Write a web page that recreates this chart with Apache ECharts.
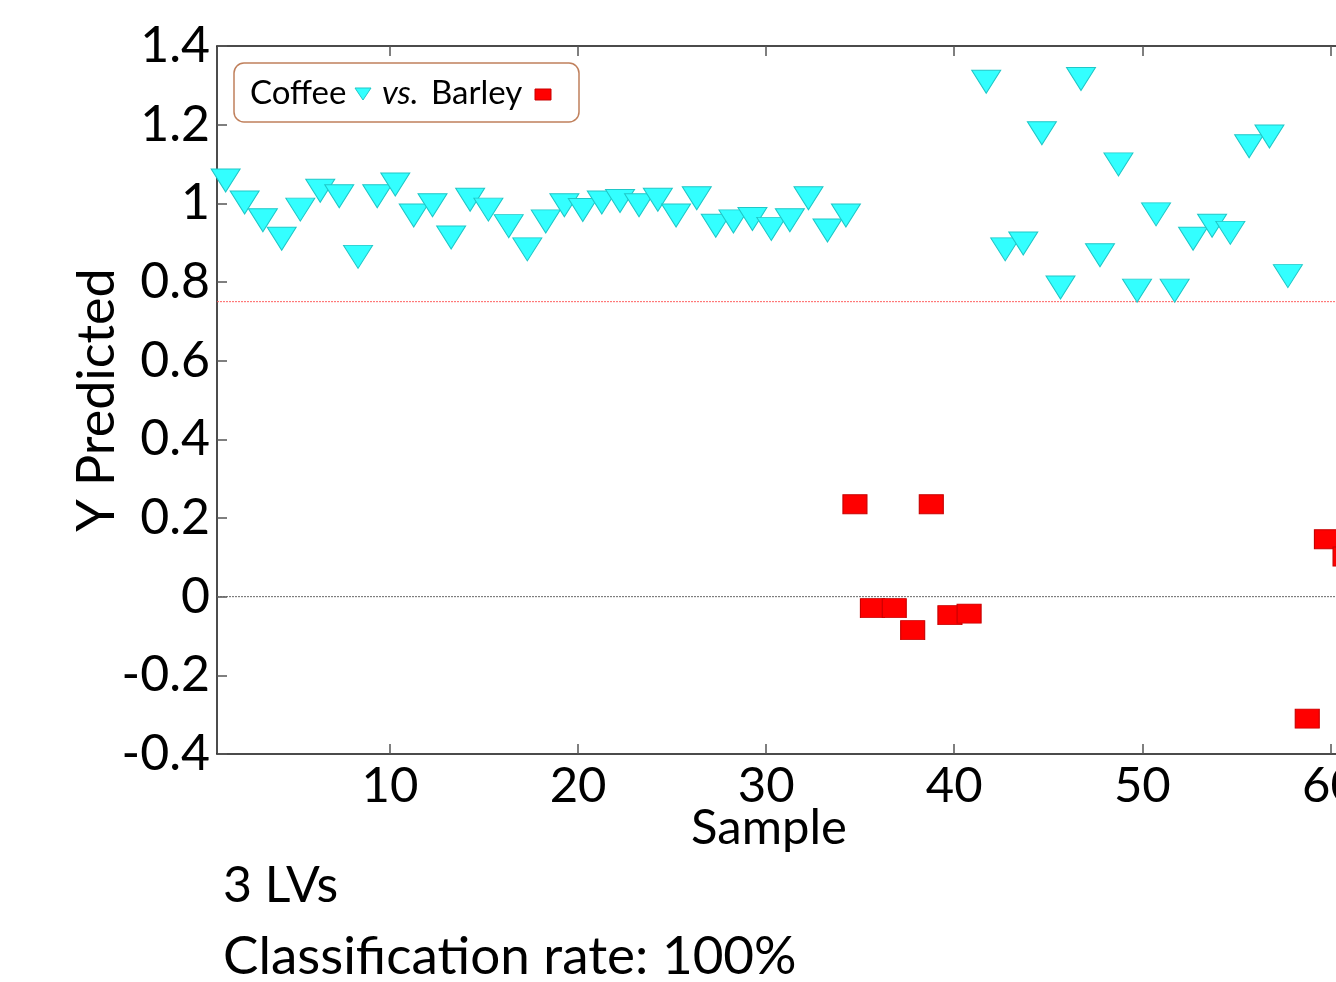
<!DOCTYPE html>
<html><head><meta charset="utf-8">
<script src="https://cdn.jsdelivr.net/npm/echarts@6/dist/echarts.min.js"></script>
<style>html,body{margin:0;padding:0;background:#fff}#c{width:1336px;height:982px}</style>
</head><body><div id="c"></div>
<script>
// Coffee samples (cyan triangles)
const coffeeX = [1.26, 2.27, 3.24, 4.24, 5.23, 6.29, 7.30, 8.30, 9.32, 10.28, 11.26, 12.26, 13.25, 14.26, 15.23, 16.31, 17.30,
  18.28, 19.27, 20.25, 21.26, 22.23, 23.24, 24.24, 25.21, 26.31, 27.32, 28.26, 29.27, 30.27, 31.26, 32.25, 33.26, 34.24,
  41.70, 42.71, 43.67, 44.66, 45.65, 46.74, 47.75, 48.73, 49.72, 50.73, 51.72, 52.70, 53.71, 54.68, 55.68, 56.76, 57.74];
const coffeeY = [1.058, 1.002, 0.957, 0.910, 0.984, 1.032, 1.018, 0.864, 1.018, 1.048, 0.969, 0.995, 0.913, 1.009, 0.984, 0.942, 0.883,
  0.954, 0.995, 0.983, 1.002, 1.006, 0.995, 1.009, 0.969, 1.013, 0.943, 0.954, 0.960, 0.935, 0.957, 1.013, 0.931, 0.969,
  1.309, 0.883, 0.898, 1.178, 0.786, 1.316, 0.868, 1.099, 0.778, 0.972, 0.778, 0.910, 0.943, 0.925, 1.145, 1.170, 0.815];
// Barley samples (red squares)
const barleyX = [34.72, 35.65, 36.81, 37.79, 38.78, 39.77, 40.79, 58.77, 59.79, 60.78];
const barleyY = [0.235, -0.029, -0.029, -0.085, 0.235, -0.047, -0.043, -0.310, 0.146, 0.102];

const xTickValues = [10, 20, 30, 40, 50, 60];
// the original figure is cropped at the right edge of the picture
const xMin = 0.8, xMax = 62;
const yMin = -0.4, yMax = 1.4, yStep = 0.2;
const thresholdY = 0.75;
const zeroY = 0;
const infoLines = ['3 LVs', 'Classification rate: 100%'];

const FONT = 'Lato';
const chart = echarts.init(document.getElementById('c'), null, {renderer: 'canvas'});

const pxPerUnit = 18.8;
const gridW = Math.round((xMax - xMin) * pxPerUnit);

const coffeeData = coffeeX.map((x, i) => [x, coffeeY[i]]);
const barleyData = barleyX.map((x, i) => [x, barleyY[i]]);
const hLine = y => [[xMin, y], [xMax, y]];

const fmtY = v => String(Math.round(v * 10) / 10);

const tickStyle = {show: true, inside: true, length: 10, lineStyle: {color: '#555', width: 1.5}};
const lineStyleAxis = {show: true, onZero: false, lineStyle: {color: '#111', width: 1.5}};

chart.setOption({
  animation: false,
  backgroundColor: '#fff',
  grid: {left: 217, top: 46, width: gridW, height: 708, containLabel: false, outerBoundsMode: 'none'},
  xAxis: [{
    type: 'value', min: xMin, max: xMax, position: 'bottom',
    axisLine: lineStyleAxis,
    axisTick: Object.assign({customValues: xTickValues}, tickStyle),
    axisLabel: {customValues: xTickValues, color: '#000', fontFamily: FONT, fontSize: 49, margin: 8},
    splitLine: {show: false},
    name: 'Sample', nameLocation: 'middle', nameGap: 50, nameMoveOverlap: false,
    nameTextStyle: {color: '#000', fontFamily: FONT, fontSize: 49, padding: [0, 47, 0, 0]}
  }, {
    type: 'value', min: xMin, max: xMax, position: 'top',
    axisLine: lineStyleAxis,
    axisTick: Object.assign({customValues: xTickValues}, tickStyle),
    axisLabel: {show: false},
    splitLine: {show: false}
  }],
  yAxis: [{
    type: 'value', min: yMin, max: yMax, interval: yStep,
    axisLine: lineStyleAxis,
    axisTick: tickStyle,
    axisLabel: {formatter: fmtY, color: '#000', fontFamily: FONT, fontSize: 50, margin: 7},
    splitLine: {show: false},
    name: 'Y Predicted', nameLocation: 'middle', nameGap: 94, nameMoveOverlap: false,
    nameTextStyle: {color: '#000', fontFamily: FONT, fontSize: 52}
  }],
  series: [{
    name: 'threshold', type: 'line', data: hLine(thresholdY), symbol: 'none', silent: true,
    lineStyle: {color: '#ff6060', type: [2, 1], width: 1}, z: 1
  }, {
    name: 'zero', type: 'line', data: hLine(zeroY), symbol: 'none', silent: true,
    lineStyle: {color: '#666', type: [2, 1], width: 1}, z: 1
  }, {
    name: 'Coffee', type: 'scatter', data: coffeeData, clip: false,
    symbol: 'triangle', symbolRotate: 180, symbolSize: [29, 23],
    itemStyle: {color: '#33ffff', borderColor: '#1fc7c7', borderWidth: 1, opacity: 1},
    z: 3
  }, {
    name: 'Barley', type: 'scatter', data: barleyData, clip: false,
    symbol: 'rect', symbolSize: [24, 19],
    itemStyle: {color: '#ff0000', borderColor: '#c80000', borderWidth: 1, opacity: 1},
    z: 4
  }],
  graphic: [
    {type: 'rect', shape: {x: 234, y: 63, width: 345, height: 59, r: 10},
     style: {fill: '#fff', stroke: '#c0805c', lineWidth: 1.5}, z: 10},
    {type: 'text', x: 250, y: 93, style: {text: 'Coffee', font: '33px ' + FONT, fill: '#000', verticalAlign: 'middle'}, z: 11},
    {type: 'polygon', shape: {points: [[355, 88], [371, 88], [363, 100]]},
     style: {fill: '#33ffff', stroke: '#1fc7c7', lineWidth: 1}, z: 11},
    {type: 'text', x: 382, y: 93, style: {text: 'vs.', font: 'italic 33px ' + FONT, fill: '#000', verticalAlign: 'middle'}, z: 11},
    {type: 'text', x: 431, y: 93, style: {text: 'Barley', font: '33px ' + FONT, fill: '#000', verticalAlign: 'middle'}, z: 11},
    {type: 'rect', shape: {x: 535, y: 89, width: 16, height: 11},
     style: {fill: '#ff0000', stroke: '#c80000', lineWidth: 1}, z: 11},
    {type: 'text', x: 223, y: 886, style: {text: infoLines[0], font: '50px ' + FONT, fill: '#000', verticalAlign: 'middle'}},
    {type: 'text', x: 223, y: 957, style: {text: infoLines[1], font: '53px ' + FONT, fill: '#000', verticalAlign: 'middle'}}
  ]
});
</script></body></html>
